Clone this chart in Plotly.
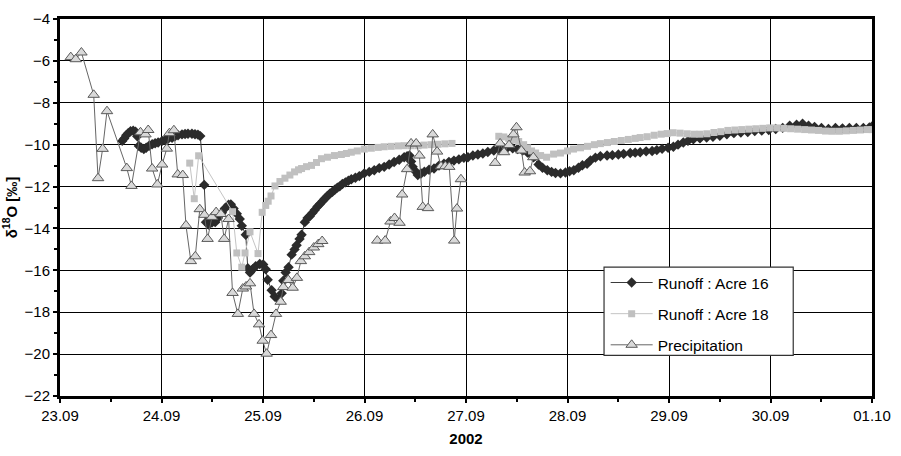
import plotly.graph_objects as go

# x values: days since 23.09.2002 00:00
x_tickvals = [0, 1, 2, 3, 4, 5, 6, 7, 8]
x_ticktext = ["23.09", "24.09", "25.09", "26.09", "27.09", "28.09", "29.09", "30.09", "01.10"]

precip_t = [0.106, 0.155, 0.211, 0.332, 0.375, 0.420, 0.463, 0.658, 0.704, 0.793, 0.842, 0.869,
            0.908, 0.959, 1.006, 1.052, 1.078, 1.122, 1.160, 1.209, 1.241, 1.289, 1.333, 1.377,
            1.423, 1.454, 1.497, 1.538, 1.585, 1.617, 1.661, 1.700, 1.752, 1.801, 1.833, 1.872,
            1.912, 1.961, 1.997, 2.036, 2.079, 2.128, 2.174, 2.200, 2.249, 2.292, 2.334, 2.373,
            2.412, 2.455, 2.501, 2.544, 2.583, None,
            3.126, 3.204, 3.256, 3.296, 3.345, 3.371, 3.420, 3.459, 3.509, 3.541, 3.574, 3.626,
            3.672, 3.715, 3.754, 3.796, 3.835, 3.884, 3.911, 3.950, None,
            4.287, 4.336, 4.375, 4.424, 4.467, 4.497, 4.546, 4.578, 4.630, 4.663]
precip_v = [-5.82, -5.92, -5.60, -7.62, -11.60, -10.20, -8.40, -11.12, -11.97, -9.41, -9.51, -9.30,
            -11.14, -11.90, -10.95, -10.19, -9.45, -9.31, -11.42, -11.45, -13.85, -15.56, -15.33, -13.08,
            -13.35, -14.50, -13.45, -13.22, -13.31, -14.50, -13.55, -17.08, -18.08, -16.87, -16.77, -16.62,
            -18.08, -18.58, -19.36, -19.98, -19.09, -18.08, -17.50, -16.80, -16.46, -16.83, -16.36, -15.56,
            -15.33, -15.13, -14.91, -14.75, -14.60, None,
            -14.58, -14.58, -13.67, -13.50, -13.73, -12.38, -11.17, -9.94, -9.94, -10.52, -12.97, -13.03,
            -9.51, -10.33, -11.03, -11.03, -11.06, -14.58, -13.05, -11.65, None,
            -10.87, -9.94, -10.36, -10.02, -9.51, -9.17, -10.28, -11.33, -11.27, -10.60]

acre16_t = [0.613, 0.633, 0.653, 0.672, 0.695, 0.721, 0.744, 0.761, 0.777, 0.800, 0.826, 0.849,
            0.878, 0.908, 0.937, 0.967, 1.006, 1.035, 1.065, 1.104, 1.133, 1.163, 1.202, 1.232,
            1.261, 1.300, 1.330, 1.359, 1.382, 1.421, 1.438, 1.464, 1.497, 1.529, 1.556, 1.595,
            1.624, 1.661, 1.683, 1.710, 1.742, 1.771, 1.791, 1.830, 1.850, 1.872, 1.899, 1.928,
            1.968, 2.002, 2.027, 2.046, 2.085, 2.115, 2.154, 2.184, 2.200, 2.223, 2.252, 2.282,
            2.311, 2.331, 2.360, 2.380, 2.412, 2.439, 2.461, 2.488, 2.510, 2.537, 2.559, 2.586,
            2.608, 2.635, 2.658, 2.684, 2.707, 2.733, 2.756, 2.782, 2.812, 2.841, 2.870, 2.910,
            2.949, 2.998, 3.047, 3.096, 3.145, 3.194, 3.243, 3.292, 3.342, 3.391, 3.420, 3.443,
            3.459, 3.474, 3.492, 3.525, 3.557, 3.590, 3.636, 3.685, 3.734, 3.783, 3.832, 3.881,
            3.930, 3.979, 4.019, 4.068, 4.117, 4.166, 4.215, 4.274, 4.323, 4.372, 4.411, 4.460,
            4.509, 4.558, 4.607, 4.637, 4.666, 4.715, 4.754, 4.801, 4.843, 4.882, 4.931, 4.980,
            5.020, 5.062, 5.108, 5.147, 5.193, 5.226, 5.275, 5.324, 5.390, 5.442, 5.501, 5.553,
            5.618, 5.667, 5.716, 5.775, 5.834, 5.880, 5.932, 5.991, 6.043, 6.089, 6.141, 6.187,
            6.240, 6.305, 6.371, 6.433, 6.501, 6.570, 6.639, 6.708, 6.776, 6.845, 6.914, 6.983,
            7.051, 7.120, 7.189, 7.257, 7.316, 7.375, 7.434, 7.502, 7.571, 7.640, 7.709, 7.777,
            7.846, 7.915, 7.974, 8.000]
acre16_v = [-9.82, -9.70, -9.55, -9.45, -9.36, -9.33, -9.38, -9.60, -10.06, -10.15, -10.21, -10.15,
            -10.05, -9.98, -9.93, -9.90, -9.82, -9.78, -9.72, -9.67, -9.60, -9.55, -9.51, -9.49,
            -9.48, -9.48, -9.50, -9.52, -9.59, -11.92, -13.70, -13.82, -13.72, -13.70, -13.50, -13.25,
            -13.05, -12.87, -12.85, -13.05, -13.30, -13.55, -13.87, -14.30, -15.90, -16.10, -15.95, -15.80,
            -15.70, -15.72, -15.95, -16.45, -16.95, -17.25, -17.40, -17.10, -16.50, -16.10, -15.85, -15.25,
            -15.00, -14.80, -14.50, -14.30, -13.70, -13.50, -13.42, -13.25, -13.12, -12.95, -12.85, -12.70,
            -12.58, -12.45, -12.34, -12.25, -12.15, -12.05, -11.99, -11.88, -11.80, -11.72, -11.65, -11.58,
            -11.50, -11.37, -11.30, -11.22, -11.12, -11.06, -10.95, -10.83, -10.72, -10.60, -10.55, -10.52,
            -10.80, -11.05, -11.22, -11.45, -11.38, -11.29, -11.20, -11.14, -11.00, -10.91, -10.82, -10.76,
            -10.70, -10.63, -10.60, -10.52, -10.47, -10.42, -10.35, -10.28, -10.20, -10.15, -10.13, -10.17,
            -10.21, -10.28, -10.38, -10.44, -10.60, -10.95, -11.10, -11.22, -11.30, -11.35, -11.37, -11.33,
            -11.27, -11.22, -11.10, -10.98, -10.91, -10.75, -10.62, -10.55, -10.52, -10.50, -10.47, -10.44,
            -10.40, -10.38, -10.36, -10.32, -10.30, -10.26, -10.20, -10.15, -10.10, -10.00, -9.90, -9.82,
            -9.74, -9.70, -9.66, -9.62, -9.58, -9.50, -9.45, -9.42, -9.40, -9.35, -9.33, -9.30,
            -9.25, -9.20, -9.10, -9.05, -9.00, -9.10, -9.15, -9.20, -9.25, -9.20, -9.22, -9.20,
            -9.20, -9.20, -9.18, -9.13]

acre18_t = [1.278, 1.323, 1.366, 1.700, 1.742, 1.791, 1.823, 1.872, 1.951, 1.992, 2.027, 2.051,
            2.079, 2.118, 2.167, 2.216, 2.265, 2.311, 2.350, 2.380, 2.429, 2.478, 2.527, 2.576,
            2.635, 2.704, 2.772, 2.822, 2.870, 2.929, 2.998, 3.067, 3.135, 3.194, 3.263, 3.332,
            3.391, 3.459, 3.528, 3.587, 3.656, 3.724, 3.793, 3.862, None,
            4.323, 4.372, 4.421, 4.470, 4.519, 4.568, 4.607, 4.646, 4.686, 4.735, 4.794, 4.863,
            4.931, 5.000, 5.059, 5.128, 5.197, 5.265, 5.324, 5.393, 5.461, 5.530, 5.599, 5.667,
            5.716, 5.785, 5.854, 5.923, 5.982, 6.040, 6.109, 6.178, 6.246, 6.305, 6.374, 6.443,
            6.511, 6.580, 6.649, 6.717, 6.786, 6.855, 6.924, 6.992, 7.061, 7.130, 7.198, 7.267,
            7.336, 7.404, 7.473, 7.542, 7.610, 7.679, 7.748, 7.817, 7.885, 7.954, 8.000]
acre18_v = [-10.88, -12.58, -10.53, -13.20, -15.17, -15.85, -15.17, -14.16, -15.20, -13.23, -12.90, -12.70,
            -12.45, -11.97, -11.76, -11.60, -11.45, -11.30, -11.20, -11.14, -11.05, -10.99, -10.85, -10.67,
            -10.60, -10.52, -10.47, -10.42, -10.36, -10.30, -10.21, -10.17, -10.13, -10.10, -10.08, -10.06,
            -10.05, -10.05, -10.05, -10.02, -10.00, -9.98, -9.96, -9.94, None,
            -9.60, -9.63, -9.70, -9.78, -9.85, -10.00, -10.15, -10.30, -10.40, -10.52, -10.60, -10.45,
            -10.40, -10.30, -10.21, -10.15, -10.08, -10.00, -9.95, -9.90, -9.85, -9.80, -9.75, -9.70,
            -9.66, -9.62, -9.55, -9.50, -9.47, -9.43, -9.45, -9.48, -9.50, -9.50, -9.48, -9.42,
            -9.38, -9.32, -9.30, -9.28, -9.26, -9.24, -9.22, -9.20, -9.20, -9.22, -9.24, -9.26,
            -9.28, -9.30, -9.32, -9.35, -9.36, -9.36, -9.34, -9.32, -9.30, -9.28, -9.28]

FONT = "Liberation Sans, Arial, sans-serif"

fig = go.Figure()
fig.add_trace(go.Scatter(
    x=acre16_t, y=acre16_v, mode="lines+markers", name="Runoff : Acre 16",
    line=dict(color="#3a3a3a", width=1),
    marker=dict(symbol="diamond", size=8, color="#2b2b2b", line=dict(width=0)),
    legendgroup="a", connectgaps=False))
fig.add_trace(go.Scatter(
    x=acre18_t, y=acre18_v, mode="lines+markers", name="Runoff : Acre 18",
    line=dict(color="#c4c4c4", width=1),
    marker=dict(symbol="square", size=7, color="#c0c0c0", line=dict(width=0)),
    legendgroup="b", connectgaps=False))
fig.add_trace(go.Scatter(
    x=precip_t, y=precip_v, mode="lines+markers", name="Precipitation",
    line=dict(color="#666666", width=1),
    marker=dict(symbol="triangle-up", size=10, color="#d9d9d9", line=dict(color="#5a5a5a", width=1)),
    legendgroup="c", connectgaps=False))

# legend frame (drawn as a box behind the transparent legend)
fig.add_shape(type="rect", xref="paper", yref="paper",
              x0=0.670, x1=0.903, y0=0.108, y1=0.342,
              fillcolor="white", line=dict(color="#333333", width=1.2), layer="above")

fig.update_layout(
    width=901, height=456,
    margin=dict(l=57, r=28, t=10, b=57),
    paper_bgcolor="white", plot_bgcolor="white",
    font=dict(family=FONT, size=14, color="black"),
    showlegend=True,
    legend=dict(x=0.672, y=0.345, xanchor="left", yanchor="top",
                bgcolor="rgba(0,0,0,0)", borderwidth=0,
                font=dict(family=FONT, size=15.5, color="black"),
                tracegroupgap=8, traceorder="grouped", itemwidth=42),
)
fig.update_xaxes(
    range=[0, 8], tickmode="array", tickvals=x_tickvals, ticktext=x_ticktext,
    showgrid=True, gridcolor="black", gridwidth=1,
    showline=True, linecolor="black", linewidth=3, mirror=True,
    ticks="outside", ticklen=4, tickwidth=1.5, tickcolor="black",
    minor=dict(ticks="outside", ticklen=3, tickwidth=1.5, tickcolor="black", dtick=0.5, tick0=0, showgrid=False),
    zeroline=False,
    tickfont=dict(family=FONT, size=15),
    title=dict(text="<b>2002</b>", font=dict(family=FONT, size=15), standoff=11),
)
fig.update_yaxes(
    range=[-22, -4], dtick=2, tick0=-22,
    showgrid=True, gridcolor="black", gridwidth=1,
    showline=True, linecolor="black", linewidth=3, mirror=True,
    ticks="outside", ticklen=4, tickwidth=1.5, tickcolor="black",
    minor=dict(ticks="outside", ticklen=3, tickwidth=1.5, tickcolor="black", dtick=1, showgrid=False),
    zeroline=False,
    tickfont=dict(family=FONT, size=15),
    title=dict(text="<b>δ<sup>18</sup>O [‰]</b>", font=dict(family=FONT, size=15), standoff=4),
)

fig.write_html(
    "out.html",
    config={"displayModeBar": False},
    post_script="document.body.style.margin='0';document.body.style.padding='0';"
                "document.body.style.overflow='hidden';",
)
